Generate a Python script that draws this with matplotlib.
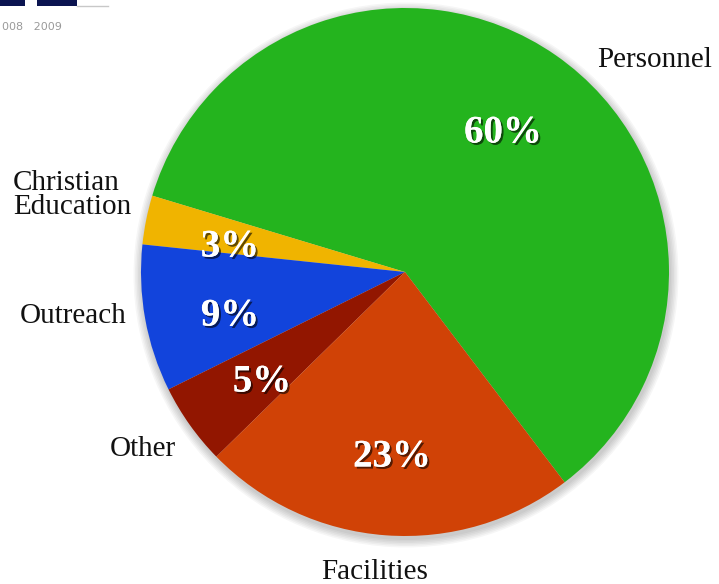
import matplotlib.pyplot as plt
import matplotlib.patheffects as pe
from matplotlib.patches import Circle, Rectangle

# budget shares, counterclockwise from the lower right
labels = ["Personnel", "Christian\nEducation", "Outreach", "Other", "Facilities"]
shares = [60, 3, 9, 5, 23]
colors = ["#24b41e", "#f0b400", "#1244dc", "#921600", "#d04206"]

# label spots in pixel space (y down)
label_pos = [(655, 60), (72, 195), (73, 316), (143, 449), (375, 572)]
pct_pos = [(503, 133), (230, 247), (230, 316), (262, 382), (392, 457)]

W, H = 719, 584
fig = plt.figure(figsize=(7.19, 5.84), dpi=100)
ax = fig.add_axes([0, 0, 1, 1])
ax.set_xlim(0, W)
ax.set_ylim(0, H)
ax.set_aspect("equal")
ax.axis("off")

cx, cy, r = 405, H - 272, 264

# soft shadow under the pie
for k in range(6):
    ax.add_patch(Circle((cx + 1, cy - 3), r + 1 + k * 1.5, color="black",
                        alpha=0.035, lw=0, zorder=0))

ax.pie(shares, colors=colors, startangle=-52.8, counterclock=True,
       center=(cx, cy), radius=r, frame=True,
       wedgeprops=dict(linewidth=0))
ax.set_xlim(0, W)
ax.set_ylim(0, H)
ax.axis("off")

serif = ["Liberation Serif", "DejaVu Serif"]
for lab, (x, y) in zip(labels, label_pos):
    ax.text(x, H - y, lab, fontsize=21, family=serif, ha="center",
            va="center", linespacing=0.85, multialignment="left",
            color="#111111")

shadow = [pe.withSimplePatchShadow(offset=(1.5, -1.5), shadow_rgbFace="black",
                                   alpha=0.6), pe.Normal()]
for s, (x, y) in zip(shares, pct_pos):
    ax.text(x, H - y, f"{s}%", fontsize=28, family=serif, weight="bold",
            ha="center", va="center", color="white", path_effects=shadow)

# scrap of another chart in the top left corner
ax.add_patch(Rectangle((0, H - 6), 25, 6, color="#0b1450", lw=0))
ax.add_patch(Rectangle((37, H - 6), 40, 6, color="#0b1450", lw=0))
ax.plot([77, 108], [H - 6, H - 6], color="#c8c8c8", lw=1)
ax.text(2, H - 27, "008   2009", fontsize=8, color="#9a9a9a",
        ha="left", va="center")

fig.savefig("out.png", dpi=100)
